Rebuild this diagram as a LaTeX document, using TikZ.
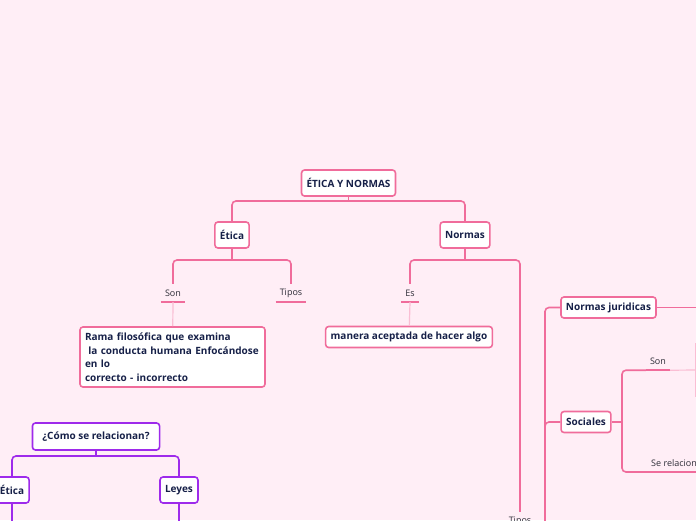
\documentclass[tikz,border=0pt]{standalone}
\usepackage{fontspec}
\setmainfont{Open Sans}
\begin{document}
\begin{tikzpicture}[x=1pt,y=-1pt,
    topic/.style={draw=mypink, fill=white, line width=1.6pt, rounded corners=3pt, text=mytext,
        font=\fontsize{10}{12}\selectfont\bfseries, inner xsep=5pt, minimum height=26pt},
    subtopic/.style={topic, minimum height=21pt},
    ptopic/.style={topic, draw=mypurple},
    tag/.style={text=mytag, font=\fontsize{9}{11}\selectfont, inner xsep=4pt, minimum height=18pt},
    branch/.style={draw=mypink, line width=1.6pt, rounded corners=4pt},
    pbranch/.style={branch, draw=mypurple},
    soft/.style={draw=mysoft, line width=1.2pt}]
    \definecolor{mybg}{RGB}{255,238,246}
    \definecolor{mypink}{RGB}{240,108,155}
    \definecolor{mysoft}{RGB}{250,190,212}
    \definecolor{mypurple}{RGB}{158,42,235}
    \definecolor{mytext}{RGB}{22,32,72}
    \definecolor{mytag}{RGB}{45,45,55}

    \fill[mybg] (0,0) rectangle (696,520);
    \clip (0,0) rectangle (696,520);

    % main tree
    \node[topic] (root) at (348.5,183) {ÉTICA Y NORMAS};
    \node[topic] (etica) at (232,235) {Ética};
    \node[topic] (normas) at (465,235) {Normas};
    \node[tag] (son) at (173,293) {Son};
    \node[tag] (tipos) at (291,293) {Tipos};
    \node[tag] (es) at (410,293) {Es};
    \node[topic, minimum height=60pt, text width=175pt, align=left,
        font=\fontsize{10}{13.5}\selectfont\bfseries] (rama) at (172.5,357)
        {Rama filosófica que examina\\\ la conducta humana Enfocándose\\en lo\\correcto - incorrecto};
    \node[subtopic] (manera) at (409,337) {manera aceptada de hacer algo};
    \node[tag] (tipos2) at (520,521) {Tipos};
    \node[subtopic] (juridicas) at (608.5,307.5) {Normas juridicas};
    \node[subtopic] (sociales) at (586,422) {Sociales};
    \node[tag] (son2) at (658,361) {Son};
    \node[tag, anchor=south west] (serel) at (647,472) {Se relacionan};

    \coordinate (rootbar) at (348.5,201);
    \coordinate (eticabar) at (232,260);
    \coordinate (normasbar) at (465,260);
    \coordinate (tiposbar) at (545,540);
    \coordinate (socialesbar) at (622,422);
    \coordinate (juridicasout) at (700,307.5);
    \coordinate (sonout) at (700,370);
    \coordinate (boxa) at (695.5,343);
    \coordinate (boxb) at (695.5,397);

    \draw[branch] (root) -- (rootbar);
    \draw[branch] (etica) |- (rootbar) -| (normas);
    \draw[branch] (etica) -- (eticabar);
    \draw[branch] (son) |- (eticabar) -| (tipos);
    \draw[branch] (normas) -- (normasbar);
    \draw[branch] (es) |- (normasbar) -| (tipos2);
    \draw[branch] (tiposbar) |- (juridicas);
    \draw[branch] (tiposbar) |- (sociales);
    \draw[branch] (juridicas) -- (juridicasout);
    \draw[branch] (sociales) -- (socialesbar);
    \draw[branch] (son2.south west) -| (socialesbar);
    \draw[branch] (serel.south west) -| (socialesbar);
    \foreach \t in {son,tipos,es,tipos2,son2,serel}
        \draw[branch] (\t.south west) -- (\t.south east);
    \draw[soft] (son.south) -- (rama);
    \draw[soft] (es.south) -- (manera);
    \draw[soft] (son2.south east) -- (sonout);
    \draw[soft] (boxa) -- (boxb);

    % purple tree
    \node[ptopic, minimum height=27pt, inner xsep=10pt] (como) at (96,436.5) {¿Cómo se relacionan?};
    \node[ptopic] (petica) at (12,490) {Ética};
    \node[ptopic] (leyes) at (179,490) {Leyes};
    \coordinate (comobar) at (96,456);
    \coordinate (peticaout) at (12,530);
    \coordinate (leyesout) at (179,530);
    \draw[pbranch] (como) -- (comobar);
    \draw[pbranch] (petica) |- (comobar) -| (leyes);
    \draw[pbranch] (petica) -- (peticaout);
    \draw[pbranch] (leyes) -- (leyesout);
\end{tikzpicture}
\end{document}
